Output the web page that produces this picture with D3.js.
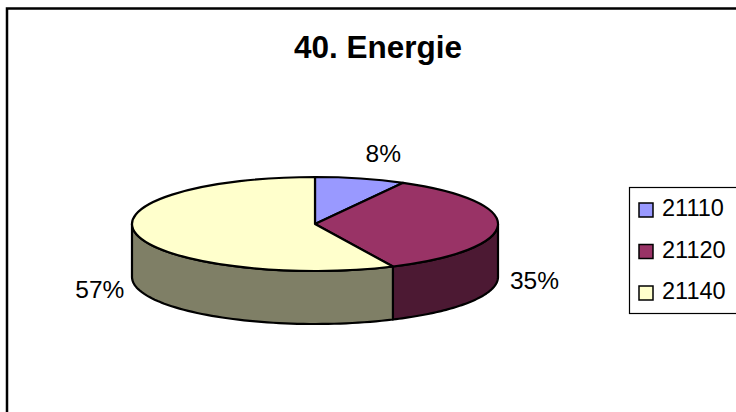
<!DOCTYPE html>
<html>
<head>
<meta charset="utf-8">
<script src="https://cdn.jsdelivr.net/npm/d3@7"></script>
<style>
  html, body { margin: 0; padding: 0; background: #fff; }
  svg { display: block; font-family: "Liberation Sans", Arial, sans-serif; }
</style>
</head>
<body>
<svg id="chart" width="736" height="412"></svg>
<script>
// ---- data ----
const title = "40. Energie";
const categories = ["21110", "21120", "21140"];
const values = [8, 35, 57];
const labels = ["8%", "35%", "57%"];
const topColors = ["#9999FF", "#993366", "#FFFFCC"];
const sideColors = ["#4C4C7F", "#4C1933", "#7F7F66"];

// ---- layout ----
const W = 736, H = 412;
const cx = 315, cy = 224, rx = 183, ry = 47, depth = 53;

const svg = d3.select("#chart");

// outer frame
svg.append("rect")
  .attr("x", 7).attr("y", 8.5)
  .attr("width", 800).attr("height", 500)
  .attr("fill", "none").attr("stroke", "#000").attr("stroke-width", 2.5);

// title
svg.append("text")
  .attr("x", 378).attr("y", 58)
  .attr("text-anchor", "middle")
  .attr("font-size", 31.5).attr("font-weight", "bold")
  .text(title);

const pie = d3.pie().sort(null).value(d => d)(values);

const ex = a => cx + rx * Math.sin(a);
const ey = a => cy - ry * Math.cos(a);

const g = svg.append("g");

// side walls (front half only: angles between PI/2 and 3PI/2)
pie.forEach((s, i) => {
  const a0 = Math.max(s.startAngle, Math.PI / 2);
  const a1 = Math.min(s.endAngle, 3 * Math.PI / 2);
  if (a1 <= a0) return;
  const steps = d3.range(0, 61).map(k => a0 + (a1 - a0) * k / 60);
  const p = d3.path();
  steps.forEach((a, k) => k === 0 ? p.moveTo(ex(a), ey(a)) : p.lineTo(ex(a), ey(a)));
  steps.slice().reverse().forEach(a => p.lineTo(ex(a), ey(a) + depth));
  p.closePath();
  g.append("path")
    .attr("d", p.toString())
    .attr("fill", sideColors[i])
    .attr("stroke", "#000").attr("stroke-width", 2.2).attr("stroke-linejoin", "round");
});

// top slices
const arc = d3.arc().innerRadius(0).outerRadius(rx);
g.append("g")
  .attr("transform", `translate(${cx},${cy}) scale(1,${ry / rx})`)
  .selectAll("path")
  .data(pie)
  .join("path")
  .attr("d", arc)
  .attr("fill", (d, i) => topColors[i])
  .attr("stroke", "#000").attr("stroke-width", 2.2)
  .attr("stroke-linejoin", "round")
  .attr("vector-effect", "non-scaling-stroke");

// data labels
pie.forEach((s, i) => {
  const a = (s.startAngle + s.endAngle) / 2;
  const back = Math.cos(a) > 0;
  const sgn = Math.sin(a) >= 0 ? 1 : -1;
  const x = ex(a) + sgn * (back ? 5 : 12);
  const y = back ? ey(a) - 16 : ey(a) + depth + 11;
  svg.append("text")
    .attr("x", x).attr("y", y)
    .attr("text-anchor", sgn > 0 ? "start" : "end")
    .attr("font-size", 24.5)
    .text(labels[i]);
});

// legend
const lg = svg.append("g");
lg.append("rect")
  .attr("x", 629.5).attr("y", 187.5)
  .attr("width", 200).attr("height", 126)
  .attr("fill", "#fff").attr("stroke", "#000").attr("stroke-width", 1.2);
const ly = d3.scalePoint().domain(categories).range([216, 299]);
categories.forEach((c, i) => {
  lg.append("rect")
    .attr("x", 639).attr("y", ly(c) - 13)
    .attr("width", 14).attr("height", 14)
    .attr("fill", topColors[i]).attr("stroke", "#000").attr("stroke-width", 1.5);
  lg.append("text")
    .attr("x", 662).attr("y", ly(c))
    .attr("font-size", 23.5)
    .text(c);
});
</script>
</body>
</html>
